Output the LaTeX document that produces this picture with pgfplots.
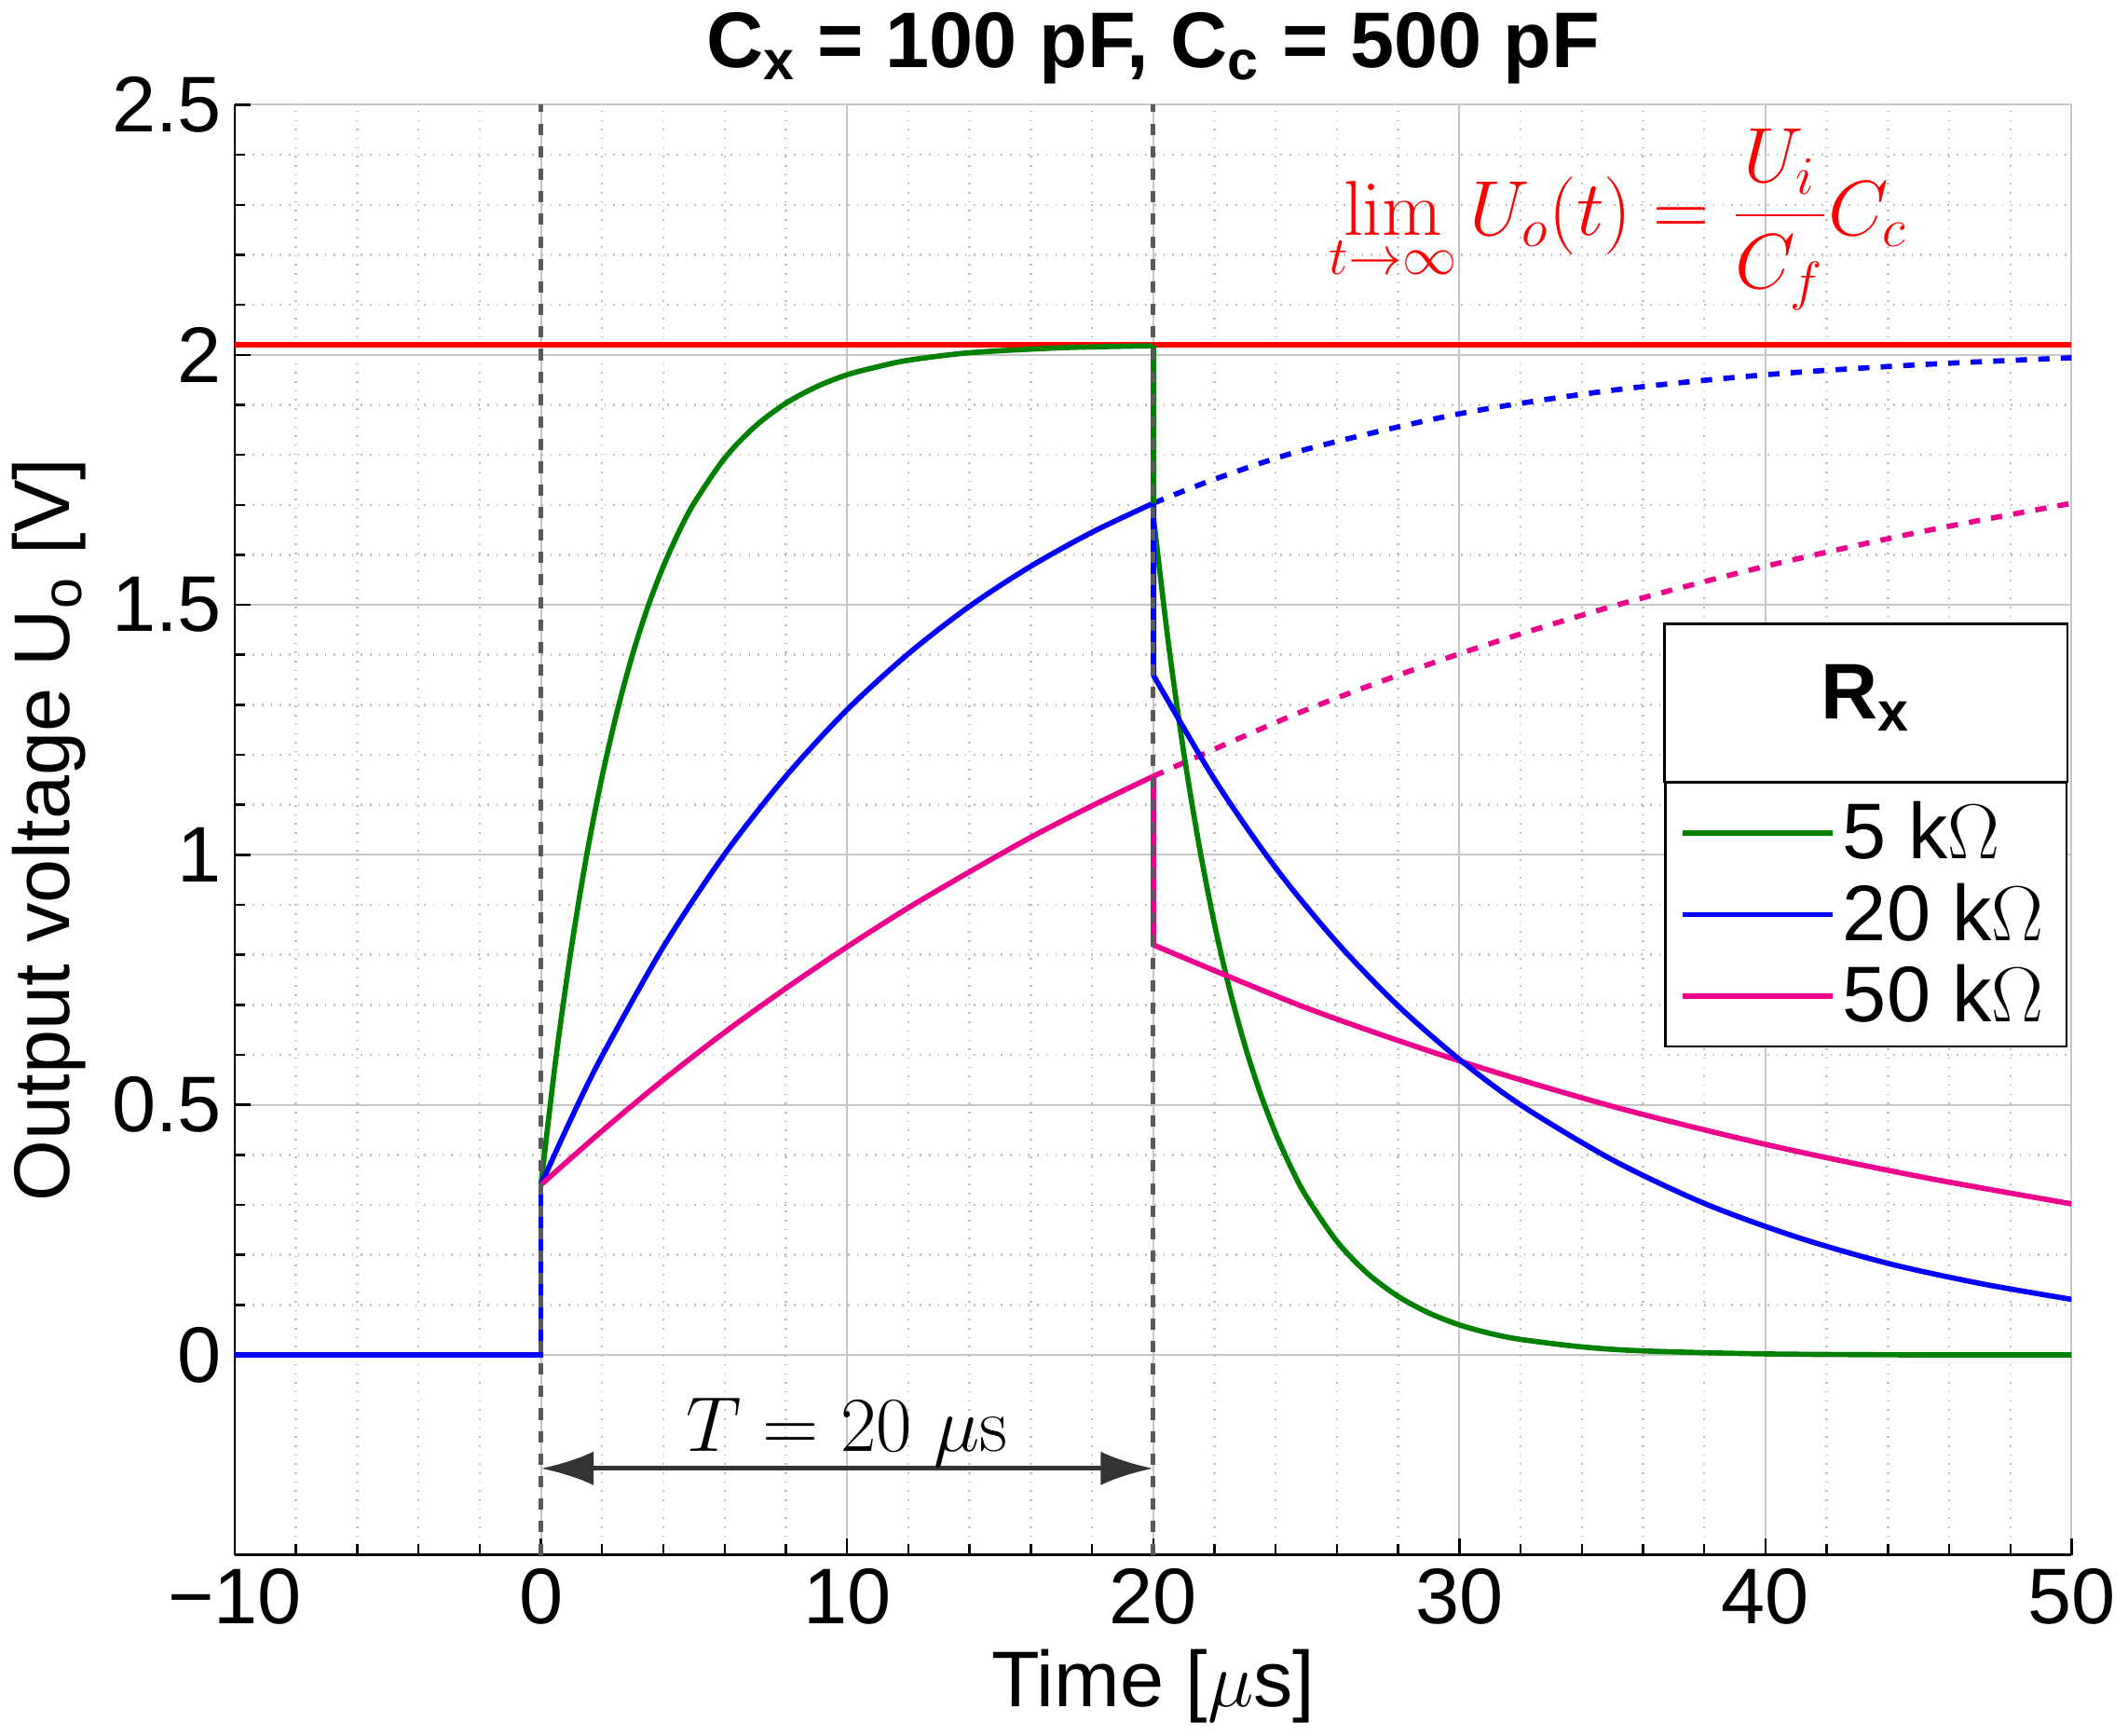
\documentclass[border=0pt]{standalone}
\usepackage{pgfplots}
\pgfplotsset{compat=1.18}
\usepackage[no-math]{fontspec}
\setmainfont{Liberation Sans}
\usetikzlibrary{arrows.meta}
\definecolor{mgreen}{RGB}{0,128,0}
\begin{document}
\begin{tikzpicture}
\begin{axis}[
  width=489pt, height=386pt, scale only axis,
  xmin=-10, xmax=50, ymin=-0.4, ymax=2.5,
  xtick={-10,0,10,20,30,40,50}, ytick={0,0.5,1,1.5,2,2.5},
  xticklabels={\textminus10,0,10,20,30,40,50},
  yticklabels={0,0.5,1,1.5,2,2.5},
  minor x tick num=4, minor y tick num=4,
  grid=both,
  major grid style={gray!45, line width=0.5pt},
  minor grid style={gray!50, dotted, line width=0.6pt},
  axis x line*=bottom, axis y line*=left,
  tick style={black, line width=0.6pt},
  axis line style={line width=0.6pt},
  ticklabel style={font=\fontsize{21}{24}\selectfont},
  label style={font=\fontsize{21}{24}\selectfont},
  xlabel={Time [$\mu$s]},
  ylabel={Output voltage U\textsubscript{o} [V]},
  title={\textbf{C\textsubscript{x} = 100 pF, C\textsubscript{c} = 500 pF}},
  title style={font=\fontsize{21}{24}\selectfont, yshift=-4pt},
  legend style={at={(axis cs:49.87,0.615)}, anchor=south east, draw=black, line width=0.6pt,
    font=\fontsize{21}{24}\selectfont, cells={anchor=west}, inner xsep=4pt, inner ysep=3pt, row sep=1pt},
  every axis legend/.append style={name=leg},
  legend image post style={line width=1.4pt},
  legend image code/.code={\draw[#1] (0cm,0cm) -- (1.4cm,0cm);},
]
\addplot[red, line width=1.4pt, forget plot] coordinates {(-10,2.02) (50,2.02)};
\addplot[blue, dashed, line width=1.4pt, smooth, forget plot] coordinates {(20,1.703) (22,1.751) (25,1.811) (30,1.882) (35,1.929) (40,1.960) (45,1.980) (50,1.994)};
\addplot[magenta, dashed, line width=1.4pt, smooth, forget plot] coordinates {(20,1.157) (25,1.290) (30,1.402) (35,1.497) (40,1.577) (45,1.645) (50,1.703)};
\addplot[mgreen, line width=1.4pt, smooth] coordinates {(0,0.34) (0.5,0.598) (1,0.816) (1.5,1.001) (2,1.157) (2.5,1.289) (3,1.402) (3.5,1.497) (4,1.577) (4.5,1.645) (5,1.703) (6,1.793) (7,1.857) (8,1.903) (9,1.936) (10,1.960) (11,1.976) (12,1.989) (14,2.004) (17,2.014) (20,2.018)};
\addlegendentry{5 k$\Omega$}
\addplot[blue, line width=1.4pt, smooth] coordinates {(0,0.34) (1,0.474) (2,0.598) (4,0.816) (6,1.001) (8,1.157) (10,1.290) (12,1.402) (14,1.497) (16,1.577) (18,1.645) (20,1.703)};
\addlegendentry{20 k$\Omega$}
\addplot[magenta, line width=1.4pt, smooth] coordinates {(0,0.34) (2,0.448) (4,0.550) (6,0.645) (8,0.733) (10,0.816) (12,0.894) (14,0.966) (16,1.035) (18,1.098) (20,1.157)};
\addlegendentry{50 k$\Omega$}
\addplot[mgreen, line width=1.4pt, forget plot] coordinates {(20,2.018) (20,1.68)};
\addplot[mgreen, line width=1.4pt, smooth, forget plot] coordinates {(20,1.68) (20.5,1.422) (21,1.204) (21.5,1.019) (22,0.862) (22.5,0.730) (23,0.618) (23.5,0.523) (24,0.443) (24.5,0.375) (25,0.317) (26,0.227) (27,0.163) (28,0.117) (29,0.084) (30,0.060) (31,0.043) (32,0.031) (34,0.016) (36,0.008) (40,0.002) (45,0.0) (50,0.0)};
\addplot[magenta, line width=1.4pt, forget plot] coordinates {(20,1.157) (20,0.82)};
\addplot[magenta, line width=1.4pt, smooth, forget plot] coordinates {(20,0.82) (25,0.694) (30,0.588) (35,0.497) (40,0.421) (45,0.357) (50,0.302)};
\addplot[blue, line width=1.4pt, forget plot] coordinates {(20,1.703) (20,1.36)};
\addplot[blue, line width=1.4pt, smooth, forget plot] coordinates {(20,1.36) (22,1.151) (24,0.974) (26,0.825) (28,0.698) (30,0.591) (32,0.500) (35,0.390) (38,0.303) (41,0.236) (44,0.183) (47,0.143) (50,0.111)};
\addplot[blue, line width=1.4pt, forget plot] coordinates {(-10,0) (0,0) (0,0.34)};
\draw[black!65, dashed, line width=1.3pt] (axis cs:0,-0.4) -- (axis cs:0,2.5);
\draw[black!65, dashed, line width=1.3pt] (axis cs:20,-0.4) -- (axis cs:20,2.5);
\draw[black!80, line width=1.3pt, {Latex[length=14pt,width=9pt]}-{Latex[length=14pt,width=9pt]}] (axis cs:0,-0.227) -- (axis cs:20,-0.227);
\node[font=\fontsize{21}{24}\selectfont] at (axis cs:10,-0.155) {$T = 20~\mu\mathrm{s}$};
\node[red, font=\fontsize{22}{26}\selectfont] at (axis cs:35.2,2.27) {$\displaystyle\lim_{t\to\infty} U_o(t) = \frac{U_i}{C_f}C_c$};
\end{axis}
\draw[black, fill=white, line width=0.6pt] (leg.north west) rectangle ([yshift=42pt]leg.north east);
\node[font=\fontsize{21}{24}\selectfont, anchor=south] at ([yshift=10pt]leg.north) {\textbf{R\textsubscript{x}}};
\end{tikzpicture}
\end{document}
